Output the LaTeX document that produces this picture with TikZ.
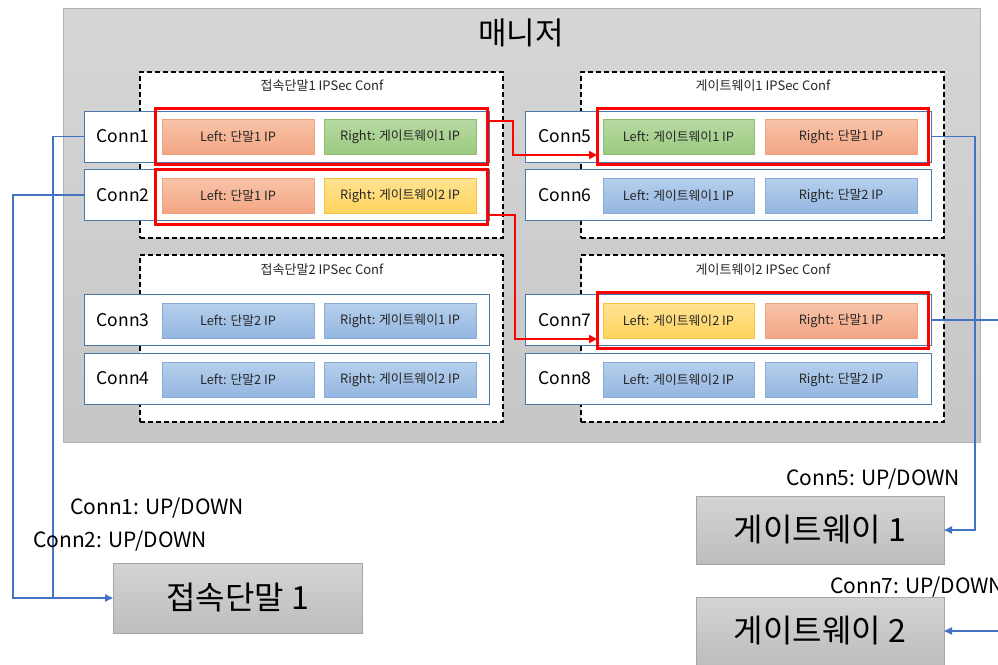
\documentclass[tikz,border=0pt]{standalone}
\usepackage{fontspec}
\setmainfont{Noto Sans CJK KR}
\usetikzlibrary{arrows.meta}
\definecolor{mgrT}{HTML}{D6D6D6}
\definecolor{mgrB}{HTML}{C6C6C6}
\definecolor{mgrD}{HTML}{B4B4B4}
\definecolor{orT}{HTML}{F8C4A8}
\definecolor{orB}{HTML}{F3A585}
\definecolor{orD}{HTML}{EFA27E}
\definecolor{grT}{HTML}{B8DAA4}
\definecolor{grB}{HTML}{9BCA80}
\definecolor{grD}{HTML}{8DBE70}
\definecolor{yeT}{HTML}{FFE394}
\definecolor{yeB}{HTML}{FFD45C}
\definecolor{yeD}{HTML}{F5C242}
\definecolor{blT}{HTML}{B6CFEC}
\definecolor{blB}{HTML}{94B6E1}
\definecolor{blD}{HTML}{88ACD8}
\definecolor{connD}{HTML}{4A78A8}
\definecolor{lineB}{HTML}{4472C4}
\definecolor{redL}{HTML}{FF0000}
\definecolor{txtD}{HTML}{262626}
\definecolor{gbT}{HTML}{D4D4D4}
\definecolor{gbB}{HTML}{BDBDBD}
\definecolor{gbD}{HTML}{A6A6A6}
\tikzset{
  box/.style={rectangle, inner sep=0pt, outer sep=0pt},
  mgr/.style={box, top color=mgrT, bottom color=mgrB, draw=mgrD, line width=1pt},
  dbox/.style={box, fill=white, draw=black, line width=1.3pt, dash pattern=on 5pt off 3pt},
  connbox/.style={box, fill=white, draw=connD, line width=1pt, minimum height=51pt},
  ip/.style={box, minimum height=35pt, text=txtD, font=\fontsize{12.8}{15}\selectfont, line width=0.8pt},
  ipor/.style={ip, top color=orT, bottom color=orB, draw=orD},
  ipgr/.style={ip, top color=grT, bottom color=grB, draw=grD},
  ipye/.style={ip, top color=yeT, bottom color=yeB, draw=yeD},
  ipbl/.style={ip, top color=blT, bottom color=blB, draw=blD},
  redbox/.style={box, draw=redL, line width=3pt},
  clabel/.style={font=\fontsize{17.5}{20}\selectfont, inner sep=0pt},
  dtitle/.style={font=\fontsize{13}{15}\selectfont, text=txtD, inner sep=0pt},
  gbox/.style={box, top color=gbT, bottom color=gbB, draw=gbD, line width=0.8pt, font=\fontsize{32}{36}\selectfont},
  stat/.style={font=\fontsize{21}{24}\selectfont, inner sep=0pt, anchor=west},
  bluearr/.style={draw=lineB, line width=1.8pt, -{Triangle[length=8pt,width=7pt]}},
  blueln/.style={draw=lineB, line width=1.8pt},
  redarr/.style={draw=redL, line width=2pt, -{Triangle[length=8pt,width=8pt]}},
}
\begin{document}
\begin{tikzpicture}[x=1pt,y=-1pt]
\useasboundingbox (0,0) rectangle (998,664);
\clip (0,0) rectangle (998,664);
\fill[white] (0,0) rectangle (998,664);
% manager
\node[mgr, minimum width=917pt, minimum height=434pt] (mgr) at (521.5,225) {};
\node[font=\fontsize{31}{36}\selectfont, inner sep=0pt] (mtitle) at (521,33) {매니저};
% dashed conf boxes
\node[dbox, minimum width=363pt, minimum height=166pt] (d1) at (321.5,155) {};
\node[dbox, minimum width=363pt, minimum height=166pt] (d2) at (762.5,155) {};
\node[dbox, minimum width=363pt, minimum height=167pt] (d3) at (321.5,338.5) {};
\node[dbox, minimum width=363pt, minimum height=167pt] (d4) at (762.5,338.5) {};
\node[dtitle] (t1) at (322,86) {접속단말1 IPSec Conf};
\node[dtitle] (t2) at (763,86) {게이트웨이1 IPSec Conf};
\node[dtitle] (t3) at (322,270) {접속단말2 IPSec Conf};
\node[dtitle] (t4) at (763,270) {게이트웨이2 IPSec Conf};
% conn boxes
\node[connbox, minimum width=405pt] (c1) at (286.5,136.5) {};
\node[connbox, minimum width=405pt] (c2) at (286.5,195) {};
\node[connbox, minimum width=405pt] (c3) at (286.5,320) {};
\node[connbox, minimum width=405pt] (c4) at (286.5,378.5) {};
\node[connbox, minimum width=406pt] (c5) at (728,136.5) {};
\node[connbox, minimum width=406pt] (c6) at (728,195) {};
\node[connbox, minimum width=406pt] (c7) at (728,320) {};
\node[connbox, minimum width=406pt] (c8) at (728,378.5) {};
\node[clabel] (l1) at (123,136.5) {Conn1};
\node[clabel] (l2) at (123,195) {Conn2};
\node[clabel] (l3) at (123,320) {Conn3};
\node[clabel] (l4) at (123,378.5) {Conn4};
\node[clabel] (l5) at (565,136.5) {Conn5};
\node[clabel] (l6) at (565,195) {Conn6};
\node[clabel] (l7) at (565,320) {Conn7};
\node[clabel] (l8) at (565,378.5) {Conn8};
% ip boxes left
\node[ipor, minimum width=152pt] (a1) at (238,136.5) {Left: 단말1 IP};
\node[ipgr, minimum width=152pt] (b1) at (400,136.5) {Right: 게이트웨이1 IP};
\node[ipor, minimum width=152pt] (a2) at (238,195.5) {Left: 단말1 IP};
\node[ipye, minimum width=152pt] (b2) at (400,195.5) {Right: 게이트웨이2 IP};
\node[ipbl, minimum width=152pt] (a3) at (238,320.5) {Left: 단말2 IP};
\node[ipbl, minimum width=152pt] (b3) at (400,320.5) {Right: 게이트웨이1 IP};
\node[ipbl, minimum width=152pt] (a4) at (238,379.5) {Left: 단말2 IP};
\node[ipbl, minimum width=152pt] (b4) at (400,379.5) {Right: 게이트웨이2 IP};
% ip boxes right
\node[ipgr, minimum width=151pt] (a5) at (678.5,136.5) {Left: 게이트웨이1 IP};
\node[ipor, minimum width=152pt] (b5) at (841,136.5) {Right: 단말1 IP};
\node[ipbl, minimum width=151pt] (a6) at (678.5,195.5) {Left: 게이트웨이1 IP};
\node[ipbl, minimum width=152pt] (b6) at (841,195.5) {Right: 단말2 IP};
\node[ipye, minimum width=151pt] (a7) at (678.5,320.5) {Left: 게이트웨이2 IP};
\node[ipor, minimum width=152pt] (b7) at (841,320.5) {Right: 단말1 IP};
\node[ipbl, minimum width=151pt] (a8) at (678.5,379.5) {Left: 게이트웨이2 IP};
\node[ipbl, minimum width=152pt] (b8) at (841,379.5) {Right: 단말2 IP};
% red highlight boxes
\node[redbox, minimum width=332pt, minimum height=56pt] (r1) at (321,136) {};
\node[redbox, minimum width=332pt, minimum height=55pt] (r2) at (321,196.5) {};
\node[redbox, minimum width=331pt, minimum height=56pt] (r5) at (762.5,136) {};
\node[redbox, minimum width=331pt, minimum height=56pt] (r7) at (762.5,320) {};
% red arrows
\draw[redarr] ([yshift=15pt]r1.east) -- ++(26,0) |- ([yshift=-19pt]r5.west);
\draw[redarr] ([yshift=-18.5pt]r2.east) -- ++(28,0) |- ([yshift=-19pt]r7.west);
% devices
\node[gbox, minimum width=249pt, minimum height=70pt] (dev1) at (237.5,598) {접속단말 1};
\node[gbox, minimum width=248pt, minimum height=68pt] (gw1) at (820,530) {게이트웨이 1};
\node[gbox, minimum width=248pt, minimum height=68pt] (gw2) at (820,631) {게이트웨이 2};
% blue connectors
\coordinate (k1) at (53,598);
\coordinate (k2) at (13,598);
\coordinate (k5) at (975,136.5);
\coordinate (k7) at (1010,320);
\draw[blueln] (c2.west) -| (k2) -- (k1);
\draw[bluearr] (c1.west) -| (k1) -- (dev1.west);
\draw[bluearr] (c5.east) -- (k5) |- (gw1.east);
\draw[bluearr] (c7.east) -- (k7) |- (gw2.east);
% status labels
\node[stat] (s1) at (70,508) {Conn1: UP/DOWN};
\node[stat] (s2) at (33,541) {Conn2: UP/DOWN};
\node[stat] (s5) at (786,479) {Conn5: UP/DOWN};
\node[stat] (s7) at (830,587) {Conn7: UP/DOWN};
\end{tikzpicture}
\end{document}
